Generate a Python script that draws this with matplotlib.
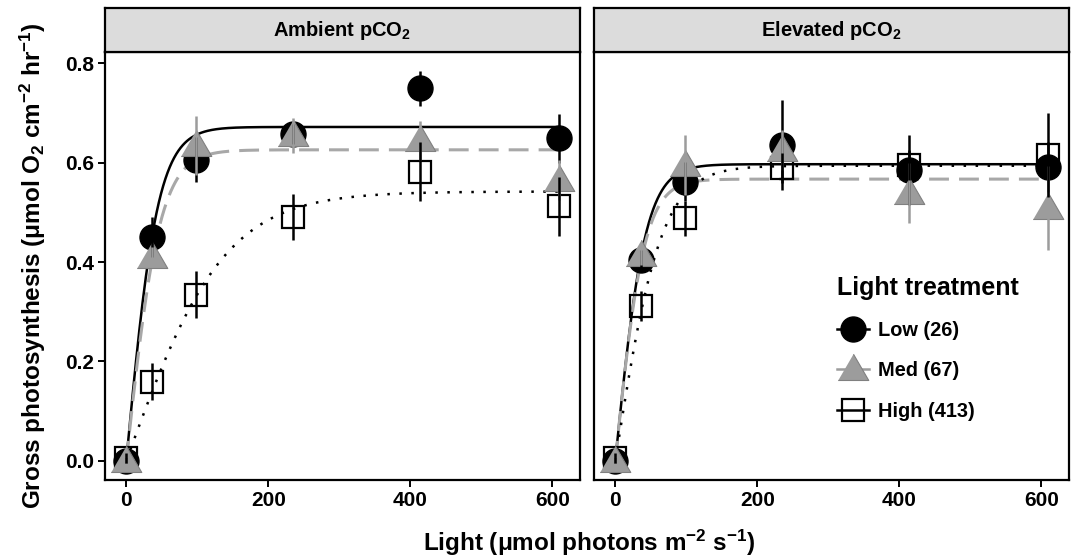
import numpy as np
import matplotlib
matplotlib.use("Agg")
import matplotlib.pyplot as plt
from matplotlib.lines import Line2D

plt.rcParams['font.family'] = ['Liberation Sans', 'DejaVu Sans']
plt.rcParams['font.weight'] = 'bold'
plt.rcParams['mathtext.fontset'] = 'custom'
plt.rcParams['mathtext.rm'] = 'Liberation Sans'
plt.rcParams['mathtext.it'] = 'Liberation Sans'
plt.rcParams['mathtext.bf'] = 'Liberation Sans:bold'

# light levels (umol photons m-2 s-1)
light = [0, 36, 98, 235, 414, 610]

# ambient pCO2 panel
amb_low = [0.0, 0.451, 0.606, 0.657, 0.750, 0.649]
amb_low_se = [0.005, 0.04, 0.045, 0.02, 0.035, 0.05]
amb_med = [0.0, 0.41, 0.635, 0.655, 0.645, 0.565]
amb_med_se = [0.005, 0.02, 0.06, 0.035, 0.04, 0.04]
amb_high = [0.005, 0.159, 0.334, 0.491, 0.582, 0.512]
amb_high_se = [0.01, 0.037, 0.047, 0.047, 0.06, 0.06]

# elevated pCO2 panel
elev_low = [0.0, 0.404, 0.562, 0.636, 0.585, 0.592]
elev_low_se = [0.005, 0.02, 0.04, 0.09, 0.07, 0.05]
elev_med = [0.0, 0.414, 0.595, 0.626, 0.539, 0.509]
elev_med_se = [0.005, 0.02, 0.06, 0.04, 0.06, 0.085]
elev_high = [0.005, 0.311, 0.488, 0.589, 0.595, 0.616]
elev_high_se = [0.01, 0.03, 0.035, 0.03, 0.03, 0.085]

# fitted P-I curves: P = Pmax * tanh(alpha * I / Pmax)
amb_pmax = [0.672, 0.626, 0.542]
amb_alpha = [0.0151, 0.01316, 0.00391]
elev_pmax = [0.597, 0.567, 0.594]
elev_alpha = [0.01396, 0.01381, 0.00908]

treatments = ["Low (26)", "Med (67)", "High (413)"]
panels = ["Ambient pCO$_2$", "Elevated pCO$_2$"]

GRAY = "#9c9c9c"
tri = [(-1, -0.72), (1, -0.72), (0, 1.0)]
styles = [
    dict(marker="o", ms=18, mfc="black", mec="black", mew=1, ecol="black",
         lcol="black", ls="-", lw=1.8, z=3),
    dict(marker=tri, ms=22, mfc=GRAY, mec="#808080", mew=0.8, ecol=GRAY,
         lcol="#a8a8a8", ls=(0, (6.5, 3.3)), lw=2.2, z=5),
    dict(marker="s", ms=16.5, mfc="none", mec="black", mew=1.6, ecol="black",
         lcol="black", ls=(0, (1, 3.8)), lw=1.8, z=4),
]

fig = plt.figure(figsize=(10.78, 5.58), dpi=100)
W, H = 1078, 558
ax_left = [105, 594]
ax_w = 475
top, bot = 52, 480
strip_top = 8

series = [
    ([amb_low, amb_med, amb_high], [amb_low_se, amb_med_se, amb_high_se], amb_pmax, amb_alpha),
    ([elev_low, elev_med, elev_high], [elev_low_se, elev_med_se, elev_high_se], elev_pmax, elev_alpha),
]

xs = np.linspace(0, max(light), 400)
axes = []
for p in range(2):
    ax = fig.add_axes([ax_left[p] / W, (H - bot) / H, ax_w / W, (bot - top) / H])
    axes.append(ax)
    vals, ses, pmax, alpha = series[p]
    for k in range(3):
        st = styles[k]
        ax.plot(xs, pmax[k] * np.tanh(alpha[k] * xs / pmax[k]), color=st["lcol"],
                ls=st["ls"], lw=st["lw"], zorder=2, dash_capstyle="butt")
    for k in range(3):
        st = styles[k]
        ax.plot(light, vals[k], ls="none", marker=st["marker"], ms=st["ms"],
                mfc=st["mfc"], mec=st["mec"], mew=st["mew"], zorder=st["z"])
    for k in range(3):
        st = styles[k]
        ax.errorbar(light, vals[k], yerr=ses[k], fmt="none", ecolor=st["ecol"],
                    elinewidth=1.8, capsize=0, zorder=6)
    ax.set_xlim(-30, 639)
    ax.set_ylim(-0.039, 0.823)
    ax.set_xticks([0, 200, 400, 600])
    ax.set_yticks([0.0, 0.2, 0.4, 0.6, 0.8])
    ax.set_yticklabels(["0.0", "0.2", "0.4", "0.6", "0.8"])
    for s in ax.spines.values():
        s.set_linewidth(1.6)
    ax.tick_params(length=5, width=1.4, labelsize=15, pad=3)
    if p == 1:
        ax.tick_params(axis="y", left=False, labelleft=False)

    sax = fig.add_axes([ax_left[p] / W, (H - top) / H, ax_w / W, (top - strip_top) / H])
    sax.set_facecolor("#dcdcdc")
    sax.set_xticks([])
    sax.set_yticks([])
    for s in sax.spines.values():
        s.set_linewidth(1.6)
    sax.text(0.5, 0.5, panels[p], ha="center", va="center", fontsize=14.5,
             fontweight="bold", transform=sax.transAxes)

fig.text(589 / W, 1 - 543 / H, r"Light $(\mathrm{\mu}$mol photons m$^{-2}$ s$^{-1})$",
         ha="center", va="center", fontsize=17.5, fontweight="bold")
fig.text(33 / W, 1 - 266 / H,
         r"Gross photosynthesis $(\mathrm{\mu}$mol O$_2$ cm$^{-2}$ hr$^{-1})$",
         ha="center", va="center", rotation=90, fontsize=17.5, fontweight="bold")

handles = []
for k in range(3):
    st = styles[k]
    handles.append(Line2D([0], [0], color=st["ecol"], lw=1.8, marker=st["marker"],
                          ms=st["ms"], mfc=st["mfc"], mec=st["mec"], mew=st["mew"]))
leg = axes[1].legend(handles, treatments, title="Light treatment", frameon=False,
                     loc="center left", bbox_to_anchor=(0.474, 0.308),
                     fontsize=14.4, title_fontsize=18, handlelength=1.6,
                     labelspacing=1.07, handletextpad=0.45)
leg._legend_box.align = "left"
leg.get_title().set_fontweight("bold")

fig.savefig("out.png", dpi=100)
